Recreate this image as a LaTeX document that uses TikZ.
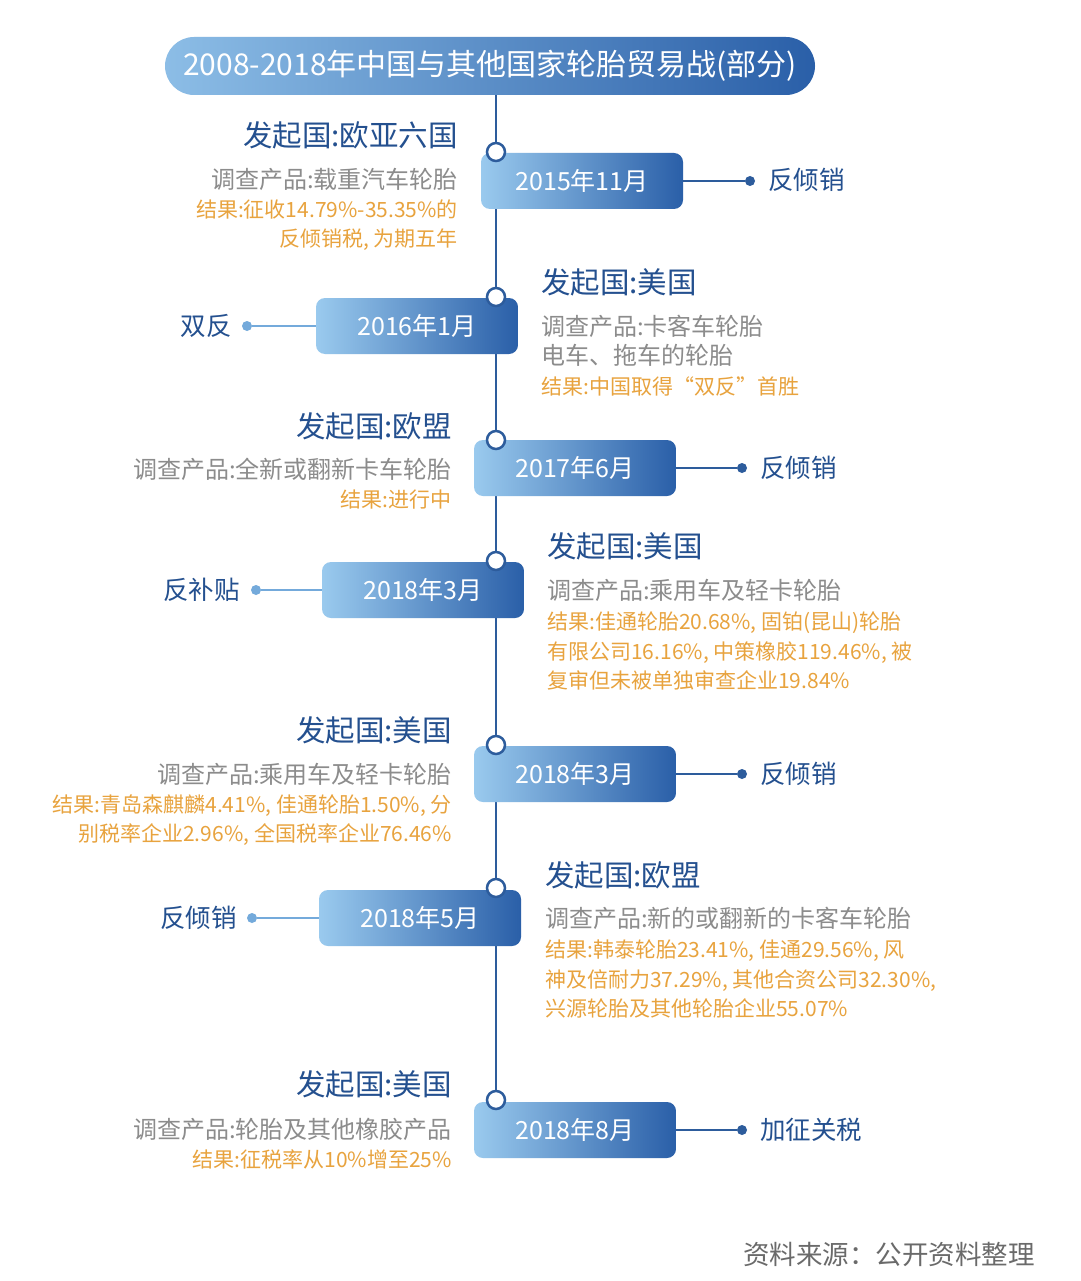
\documentclass[tikz,border=0pt]{standalone}
\usepackage{fontspec}
\setmainfont{Noto Sans CJK SC}
\usepackage{tikz}
\usetikzlibrary{calc,shapes}
\usepackage{xcolor}

\definecolor{navy}{HTML}{24508F}
\definecolor{spinec}{HTML}{2D5C9C}
\definecolor{lightb}{HTML}{9ACAEE}
\definecolor{titlel}{HTML}{8CBDE6}
\definecolor{darkb}{HTML}{2A5FA8}
\definecolor{dotlight}{HTML}{74AADB}
\definecolor{greytxt}{HTML}{8C8C8C}
\definecolor{orangetxt}{HTML}{E8A33E}
\definecolor{srctxt}{HTML}{6A6A6A}

\begin{document}
\begin{tikzpicture}[x=1pt,y=-1pt,
	titlebar/.style={rounded corners=29pt,left color=titlel,right color=darkb,text=white,
		minimum width=650pt,minimum height=58pt,inner sep=0pt,font=\fontsize{30}{30}\selectfont},
	datebox/.style={rounded corners=9pt,left color=lightb,right color=darkb,text=white,
		minimum width=202pt,minimum height=56pt,inner sep=0pt,font=\fontsize{25}{25}\selectfont},
	knot/.style={circle,draw=spinec,fill=white,line width=2.5pt,inner sep=0pt,minimum size=18pt},
	spine/.style={spinec,line width=2.5pt},
	rlink/.style={spinec,line width=2.5pt},
	llink/.style={dotlight,line width=2.5pt},
	rdot/.style={circle,fill=spinec,inner sep=0pt,minimum size=10pt},
	ldot/.style={circle,fill=dotlight,inner sep=0pt,minimum size=10pt},
	kind/.style={text=navy,inner sep=0pt,font=\fontsize{25.5}{25.5}\selectfont},
	head/.style={text=navy,inner sep=0pt,font=\fontsize{29.5}{29.5}\selectfont},
	prod/.style={text=greytxt,inner sep=0pt,font=\fontsize{24}{24}\selectfont},
	res/.style={text=orangetxt,inner sep=0pt,font=\fontsize{21}{21}\selectfont}]

	\fill[white] (0,0) rectangle (1080,1281);
	\useasboundingbox (0,0) rectangle (1080,1281);

	\node [titlebar] (title) at (490,66) {2008-2018年中国与其他国家轮胎贸易战(部分)};

	\coordinate (p1) at (496,152);
	\coordinate (p2) at (496,297);
	\coordinate (p3) at (496,440);
	\coordinate (p4) at (496,561);
	\coordinate (p5) at (496,745);
	\coordinate (p6) at (496,888);
	\coordinate (p7) at (496,1100);
	\draw [spine] (title.south -| p1) to (p7);

	% date boxes
	\node [datebox] (d1) at (582,181) {2015年11月};
	\node [datebox] (d2) at (417,326) {2016年1月};
	\node [datebox] (d3) at (575,468) {2017年6月};
	\node [datebox] (d4) at (423,590) {2018年3月};
	\node [datebox] (d5) at (575,774) {2018年3月};
	\node [datebox] (d6) at (420,918) {2018年5月};
	\node [datebox] (d7) at (575,1130) {2018年8月};

	\node [knot] (k1) at (p1) {};
	\node [knot] (k2) at (p2) {};
	\node [knot] (k3) at (p3) {};
	\node [knot] (k4) at (p4) {};
	\node [knot] (k5) at (p5) {};
	\node [knot] (k6) at (p6) {};
	\node [knot] (k7) at (p7) {};

	% kinds of measure
	\node [rdot] (e1) at (750,181) {};
	\node [ldot] (e2) at (247,326) {};
	\node [rdot] (e3) at (742,468) {};
	\node [ldot] (e4) at (256,590) {};
	\node [rdot] (e5) at (742,774) {};
	\node [ldot] (e6) at (252,918) {};
	\node [rdot] (e7) at (742,1130) {};
	\draw [rlink] (d1) to (e1);
	\draw [llink] (d2) to (e2);
	\draw [rlink] (d3) to (e3);
	\draw [llink] (d4) to (e4);
	\draw [rlink] (d5) to (e5);
	\draw [llink] (d6) to (e6);
	\draw [rlink] (d7) to (e7);
	\node [kind,anchor=base west] (t1) at (768,190) {反倾销};
	\node [kind,anchor=base east] (t2) at (232,335) {双反};
	\node [kind,anchor=base west] (t3) at (760,477) {反倾销};
	\node [kind,anchor=base east] (t4) at (240,599) {反补贴};
	\node [kind,anchor=base west] (t5) at (760,783) {反倾销};
	\node [kind,anchor=base east] (t6) at (237,927) {反倾销};
	\node [kind,anchor=base west] (t7) at (760,1139) {加征关税};

	% 2015
	\node [head,anchor=base east] (h1) at (458,147) {发起国:欧亚六国};
	\node [prod,anchor=base east] (g1) at (458,189) {调查产品:载重汽车轮胎};
	\node [res,anchor=base east] (o1a) at (458,218) {结果:征收14.79\%-35.35\%的};
	\node [res,anchor=base east] (o1b) at (458,247) {反倾销税, 为期五年};
	% 2016
	\node [head,anchor=base west] (h2) at (541,293) {发起国:美国};
	\node [prod,anchor=base west] (g2a) at (541,335) {调查产品:卡客车轮胎};
	\node [prod,anchor=base west] (g2b) at (541,364) {电车、拖车的轮胎};
	\node [res,anchor=base west] (o2) at (541,394) {结果:中国取得“双反”首胜};
	% 2017
	\node [head,anchor=base east] (h3) at (452,437) {发起国:欧盟};
	\node [prod,anchor=base east] (g3) at (452,478) {调查产品:全新或翻新卡车轮胎};
	\node [res,anchor=base east] (o3) at (452,507) {结果:进行中};
	% 2018 anti-subsidy
	\node [head,anchor=base west] (h4) at (547,557) {发起国:美国};
	\node [prod,anchor=base west] (g4) at (547,599) {调查产品:乘用车及轻卡轮胎};
	\node [res,anchor=base west] (o4a) at (547,629) {结果:佳通轮胎20.68\%, 固铂(昆山)轮胎};
	\node [res,anchor=base west] (o4b) at (547,659) {有限公司16.16\%, 中策橡胶119.46\%, 被};
	\node [res,anchor=base west] (o4c) at (547,688) {复审但未被单独审查企业19.84\%};
	% 2018 anti-dumping
	\node [head,anchor=base east] (h5) at (452,741) {发起国:美国};
	\node [prod,anchor=base east] (g5) at (452,783) {调查产品:乘用车及轻卡轮胎};
	\node [res,anchor=base east] (o5a) at (452,812) {结果:青岛森麒麟4.41\%, 佳通轮胎1.50\%, 分};
	\node [res,anchor=base east] (o5b) at (452,841) {别税率企业2.96\%, 全国税率企业76.46\%};
	% 2018 May
	\node [head,anchor=base west] (h6) at (545,886) {发起国:欧盟};
	\node [prod,anchor=base west] (g6) at (545,927) {调查产品:新的或翻新的卡客车轮胎};
	\node [res,anchor=base west] (o6a) at (545,957) {结果:韩泰轮胎23.41\%, 佳通29.56\%, 风};
	\node [res,anchor=base west] (o6b) at (545,987) {神及倍耐力37.29\%, 其他合资公司32.30\%,};
	\node [res,anchor=base west] (o6c) at (545,1016) {兴源轮胎及其他轮胎企业55.07\%};
	% 2018 Aug
	\node [head,anchor=base east] (h7) at (452,1095) {发起国:美国};
	\node [prod,anchor=base east] (g7) at (452,1138) {调查产品:轮胎及其他橡胶产品};
	\node [res,anchor=base east] (o7) at (452,1167) {结果:征税率从10\%增至25\%};

	\node [text=srctxt,inner sep=0pt,anchor=base east,font=\fontsize{26.5}{26.5}\selectfont] (src) at (1035,1264) {资料来源：公开资料整理};
\end{tikzpicture}
\end{document}
